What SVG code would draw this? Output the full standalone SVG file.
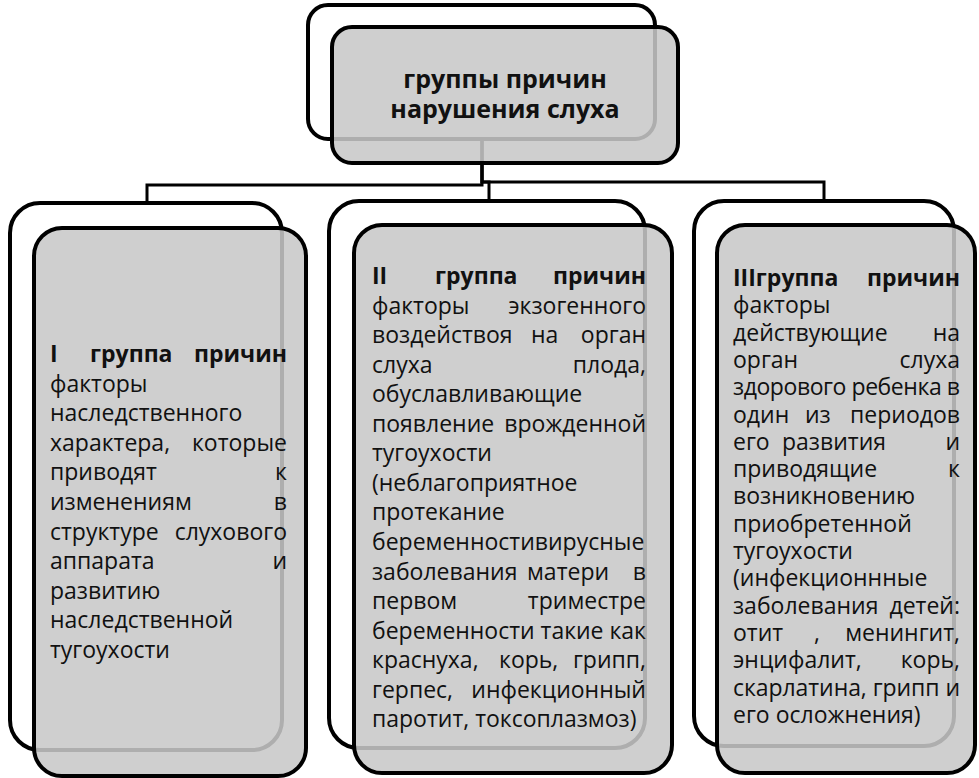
<svg xmlns="http://www.w3.org/2000/svg" width="979" height="778" viewBox="0 0 979 778">
<style>
.bk{fill:#fff;stroke:#000;stroke-width:4}
.fr{fill:#c8c8c8;fill-opacity:0.87;stroke:#000;stroke-width:4}
.cn{fill:none;stroke:#000;stroke-width:3}
text{font-family:"Open Sans","Noto Sans","Liberation Sans",sans-serif;font-size:23px;fill:#111}
.b{font-weight:bold}
.e{text-anchor:end}
.h{font-size:25px;font-weight:bold;text-anchor:middle}
</style>
<rect width="979" height="778" fill="#fff"/>
<g id="connectors">
<path class="cn" d="M482,139 V185 H147 V204"/>
<path class="cn" d="M482,139 V182 H489 V201"/>
<path class="cn" d="M482,139 V182 H824 V201"/>
</g>
<g id="root">
<rect class="bk" x="308" y="5" width="347" height="134" rx="20"/>
<rect class="fr" x="332" y="27" width="346" height="136" rx="20"/>
<text class="h" x="505" y="88">группы причин</text>
<text class="h" x="505" y="118">нарушения слуха</text>
</g>
<g id="group1">
<rect class="bk" x="10" y="203" width="272" height="547" rx="30"/>
<rect class="fr" x="34" y="228" width="272" height="548" rx="28"/>
<text class="b" x="50" y="362">I</text><text class="b" x="90" y="362">группа</text><text class="b e" x="287" y="362">причин</text>
<text x="50" y="392">факторы</text>
<text x="50" y="421">наследственного</text>
<text x="50" y="451">характера,</text><text class="e" x="287" y="451">которые</text>
<text x="50" y="480">приводят</text><text class="e" x="287" y="480">к</text>
<text x="50" y="510">изменениям</text><text class="e" x="287" y="510">в</text>
<text x="50" y="540">структуре</text><text class="e" x="287" y="540">слухового</text>
<text x="50" y="569">аппарата</text><text class="e" x="287" y="569">и</text>
<text x="50" y="599">развитию</text>
<text x="50" y="628">наследственной</text>
<text x="50" y="658">тугоухости</text>
</g>
<g id="group2">
<rect class="bk" x="329" y="201" width="316" height="547" rx="30"/>
<rect class="fr" x="354" y="225" width="318" height="548" rx="28"/>
<text class="b" x="372" y="284">II</text><text class="b" x="435" y="284">группа</text><text class="b e" x="646" y="284">причин</text>
<text x="372" y="313.5">факторы</text><text class="e" x="646" y="313.5">экзогенного</text>
<text x="372" y="343">воздействоя</text><text x="531" y="343">на</text><text class="e" x="646" y="343">орган</text>
<text x="372" y="372.5">слуха</text><text class="e" x="646" y="372.5">плода,</text>
<text x="372" y="402">обуславливающие</text>
<text x="372" y="432">появление</text><text class="e" x="646" y="432">врожденной</text>
<text x="372" y="461">тугоухости</text>
<text x="372" y="491">(неблагоприятное</text>
<text x="372" y="520">протекание</text>
<text x="372" y="550">беременностивирусные</text>
<text x="372" y="579.5">заболевания</text><text x="527" y="579.5">матери</text><text class="e" x="646" y="579.5">в</text>
<text x="372" y="609">первом</text><text class="e" x="646" y="609">триместре</text>
<text x="372" y="638.5" textLength="274" lengthAdjust="spacing">беременности такие как</text>
<text x="372" y="668">краснуха,</text><text x="499" y="668">корь,</text><text class="e" x="646" y="668">грипп,</text>
<text x="372" y="698">герпес,</text><text class="e" x="646" y="698">инфекционный</text>
<text x="372" y="727">паротит, токсоплазмоз)</text>
</g>
<g id="group3">
<rect class="bk" x="694" y="201" width="260" height="545" rx="30"/>
<rect class="fr" x="717" y="225" width="258" height="548" rx="28"/>
<text class="b" x="733" y="286">IIIгруппа</text><text class="b e" x="960" y="286">причин</text>
<text x="733" y="313.3">факторы</text>
<text x="733" y="340.6">действующие</text><text class="e" x="960" y="340.6">на</text>
<text x="733" y="367.9">орган</text><text class="e" x="960" y="367.9">слуха</text>
<text x="733" y="395.2" textLength="227" lengthAdjust="spacing">здорового ребенка в</text>
<text x="733" y="422.5">один</text><text x="805" y="422.5">из</text><text class="e" x="960" y="422.5">периодов</text>
<text x="733" y="449.8">его</text><text x="782" y="449.8">развития</text><text class="e" x="960" y="449.8">и</text>
<text x="733" y="477.1">приводящие</text><text class="e" x="960" y="477.1">к</text>
<text x="733" y="504.4">возникновению</text>
<text x="733" y="531.7">приобретенной</text>
<text x="733" y="559">тугоухости</text>
<text x="733" y="586.3">(инфекционнные</text>
<text x="733" y="613.6">заболевания</text><text class="e" x="960" y="613.6">детей:</text>
<text x="733" y="640.9">отит</text><text x="814" y="640.9">,</text><text class="e" x="960" y="640.9">менингит,</text>
<text x="733" y="668.2">энцифалит,</text><text class="e" x="960" y="668.2">корь,</text>
<text x="733" y="695.5" textLength="227" lengthAdjust="spacing">скарлатина, грипп и</text>
<text x="733" y="722.8">его осложнения)</text>
</g>
</svg>
